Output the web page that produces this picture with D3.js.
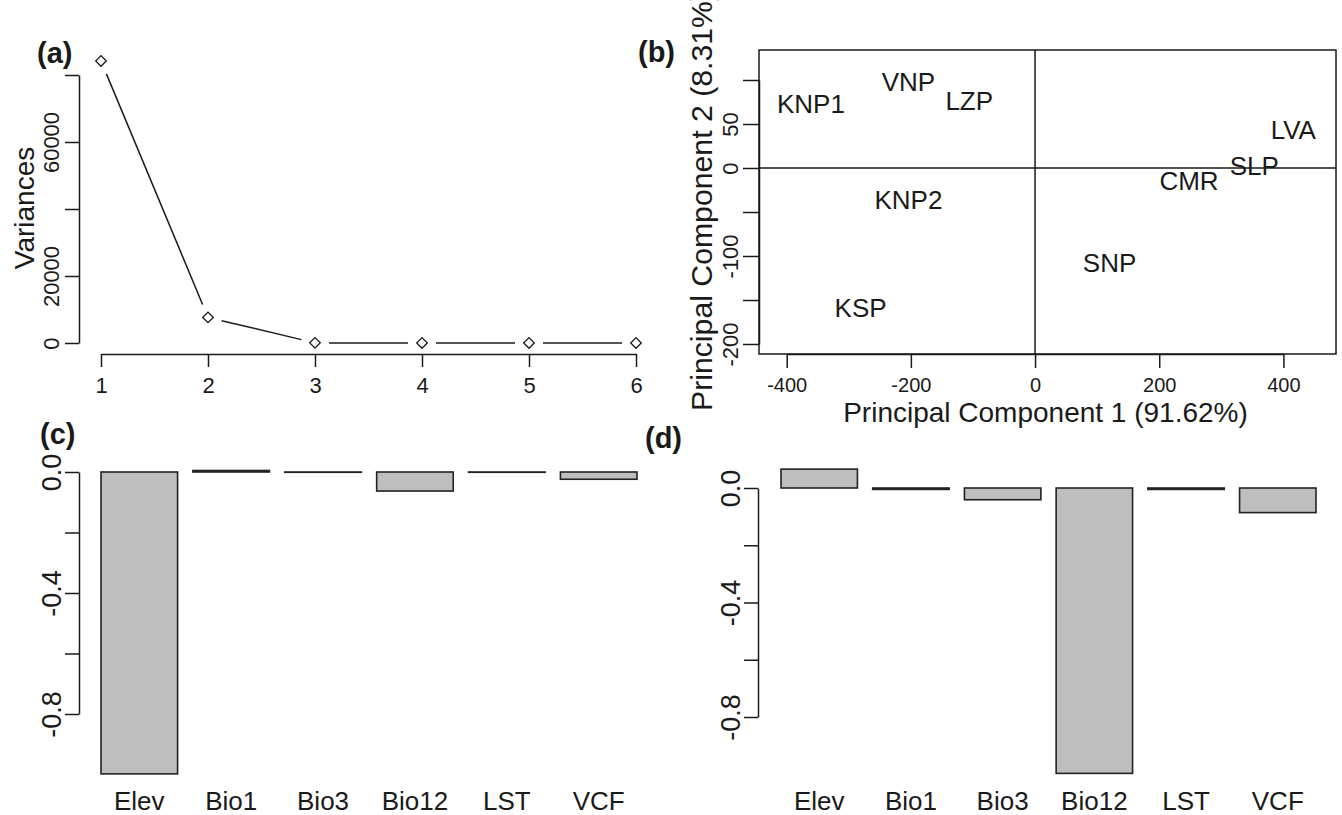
<!DOCTYPE html>
<html>
<head>
<meta charset="utf-8">
<script src="https://cdn.jsdelivr.net/npm/d3@7"></script>
<style>
  body { margin: 0; background: #fff; }
  svg text { font-family: "Liberation Sans", Arial, sans-serif; fill: #1a1a1a; }
</style>
</head>
<body>
<div id="chart"></div>
<script>
// (a) scree plot
var screeComponents = [1, 2, 3, 4, 5, 6];
var screeVariances = [84200, 7640, 40, 15, 6, 3];
var screeYTicks = [0, 20000, 40000, 60000, 80000];
var screeYLabels = [0, 20000, 60000];

// (b) PCA scores
var siteNames = ["KNP1", "VNP", "LZP", "LVA", "SLP", "CMR", "KNP2", "SNP", "KSP"];
var pc1Scores = [-361, -204, -106, 416, 353, 248, -204, 120, -281];
var pc2Scores = [73, 98, 76, 44, 3, -14, -36, -108, -159];
var pcaXTicks = [-400, -200, 0, 200, 400];
var pcaYTicks = [-200, -150, -100, -50, 0, 50, 100];
var pcaYLabels = [-200, -100, 0, 50];

// (c), (d) loadings
var loadingVars = ["Elev", "Bio1", "Bio3", "Bio12", "LST", "VCF"];
var pc1Loadings = [-0.998, 0.005, -0.001, -0.063, -0.001, -0.024];
var pc2Loadings = [0.066, -0.005, -0.041, -0.997, -0.005, -0.086];
var loadTicks = [0, -0.2, -0.4, -0.6, -0.8];
var loadLabels = [0, -0.4, -0.8];

var ink = "#1a1a1a";

var svg = d3.select("#chart").append("svg")
    .attr("width", 1342)
    .attr("height", 815);

// R style numbers: plain hyphen for minus
var fmt = function(f){
  return function(d){ return f(d).replace("\u2212", "-"); };
}

// rotate left-axis labels the R way (read bottom to top)
var rotateLeft = function(g, dist, size){
  g.select(".domain").attr("stroke", ink).attr("stroke-width", 1.5);
  g.selectAll(".tick line").attr("stroke", ink).attr("stroke-width", 1.5);
  g.selectAll(".tick text")
    .attr("transform", "rotate(-90)")
    .attr("text-anchor", "middle")
    .attr("x", 0)
    .attr("y", -dist)
    .attr("dy", 0)
    .style("font-size", size + "px")
    .attr("fill", ink);
}

var styleBottom = function(g, size, off){
  g.select(".domain").attr("stroke", ink).attr("stroke-width", 1.5);
  g.selectAll(".tick line").attr("stroke", ink).attr("stroke-width", 1.5);
  g.selectAll(".tick text")
    .attr("dy", 0)
    .attr("y", off)
    .style("font-size", size + "px")
    .attr("fill", ink);
}

var panelLetter = function(txt, x, y){
  svg.append("text")
    .attr("x", x).attr("y", y)
    .style("font-size", "29px")
    .style("font-weight", "bold")
    .text(txt);
}

/* ---------- (a) ---------- */
var xA = d3.scaleLinear().domain([1, 6]).range([101, 636]);
var yA = d3.scaleLinear().domain([0, 80000]).range([343, 75]);

svg.append("g")
  .attr("transform", "translate(79,0)")
  .call(d3.axisLeft(yA).tickValues(screeYTicks).tickSize(14).tickSizeOuter(0)
    .tickFormat(function(d){ return screeYLabels.indexOf(d) >= 0 ? d : ""; }))
  .call(function(g){ rotateLeft(g, 20, 22); });

svg.append("g")
  .attr("transform", "translate(0,354)")
  .call(d3.axisBottom(xA).tickValues(screeComponents).tickSize(13).tickSizeOuter(0)
    .tickFormat(d3.format("d")))
  .call(function(g){ styleBottom(g, 22, 39); });

// type="b": segments with gaps around the points
var gap = 14;
var segs = [];
for (var i = 1; i < screeComponents.length; i++) {
  var x1 = xA(screeComponents[i-1]), y1 = yA(screeVariances[i-1]);
  var x2 = xA(screeComponents[i]), y2 = yA(screeVariances[i]);
  var len = Math.sqrt((x2-x1)*(x2-x1) + (y2-y1)*(y2-y1));
  var ux = (x2-x1)/len, uy = (y2-y1)/len;
  segs.push({x1: x1 + ux*gap, y1: y1 + uy*gap, x2: x2 - ux*gap, y2: y2 - uy*gap});
}
svg.selectAll(".screeSeg").data(segs).enter().append("line")
  .attr("class", "screeSeg")
  .attr("x1", function(d){ return d.x1; })
  .attr("y1", function(d){ return d.y1; })
  .attr("x2", function(d){ return d.x2; })
  .attr("y2", function(d){ return d.y2; })
  .attr("stroke", ink)
  .attr("stroke-width", 1.5);

svg.selectAll(".screePt").data(screeVariances).enter().append("path")
  .attr("class", "screePt")
  .attr("d", d3.symbol(d3.symbolSquare, 56))
  .attr("transform", function(d, i){ return "translate(" + xA(screeComponents[i]) + "," + yA(d) + ") rotate(45)"; })
  .attr("fill", "#fff")
  .attr("stroke", ink)
  .attr("stroke-width", 1.3);

svg.append("text")
  .attr("transform", "translate(34,208) rotate(-90)")
  .attr("text-anchor", "middle")
  .style("font-size", "28px")
  .text("Variances");

panelLetter("(a)", 37, 63);

/* ---------- (b) ---------- */
var xB = d3.scaleLinear().domain([-400, 400]).range([786.7, 1283.4]);
var yB = d3.scaleLinear().domain([-200, 100]).range([344, 80]);
var boxL = 759, boxR = 1336, boxT = 50, boxB = 354;

svg.append("g")
  .attr("transform", "translate(0," + boxB + ")")
  .call(d3.axisBottom(xB).tickValues(pcaXTicks).tickSize(14).tickSizeOuter(0)
    .tickFormat(fmt(d3.format("d"))))
  .call(function(g){ styleBottom(g, 20, 38); });

svg.append("g")
  .attr("transform", "translate(" + boxL + ",0)")
  .call(d3.axisLeft(yB).tickValues(pcaYTicks).tickSize(16).tickSizeOuter(0)
    .tickFormat(function(d){ return pcaYLabels.indexOf(d) >= 0 ? String(d) : ""; }))
  .call(function(g){ rotateLeft(g, 21, 22); });

svg.append("rect")
  .attr("x", boxL).attr("y", boxT)
  .attr("width", boxR - boxL).attr("height", boxB - boxT)
  .attr("fill", "none")
  .attr("stroke", ink)
  .attr("stroke-width", 1.5);

svg.append("line")
  .attr("x1", xB(0)).attr("x2", xB(0))
  .attr("y1", boxT).attr("y2", boxB)
  .attr("stroke", ink).attr("stroke-width", 1.5);
svg.append("line")
  .attr("x1", boxL).attr("x2", boxR)
  .attr("y1", yB(0)).attr("y2", yB(0))
  .attr("stroke", ink).attr("stroke-width", 1.5);

svg.selectAll(".site").data(siteNames).enter().append("text")
  .attr("class", "site")
  .attr("x", function(d, i){ return xB(pc1Scores[i]); })
  .attr("y", function(d, i){ return yB(pc2Scores[i]); })
  .attr("dy", "0.36em")
  .attr("text-anchor", "middle")
  .style("font-size", "26px")
  .text(function(d){ return d; });

svg.append("text")
  .attr("x", (boxL + boxR) / 2 - 2)
  .attr("y", 422)
  .attr("text-anchor", "middle")
  .style("font-size", "28px")
  .text("Principal Component 1 (91.62%)");

svg.append("text")
  .attr("transform", "translate(712,411) rotate(-90)")
  .attr("text-anchor", "start")
  .attr("textLength", 420)
  .attr("lengthAdjust", "spacingAndGlyphs")
  .style("font-size", "29px")
  .text("Principal Component 2 (8.31%)");

panelLetter("(b)", 638, 62);

/* ---------- (c) and (d) ---------- */
var loadingPanel = function(values, axisX, zeroY, lowY, bandRange){
  var x = d3.scaleBand().domain(loadingVars).range(bandRange).paddingInner(1/6).paddingOuter(0);
  var y = d3.scaleLinear().domain([-0.8, 0]).range([lowY, zeroY]);

  svg.append("g")
    .attr("transform", "translate(" + axisX + ",0)")
    .call(d3.axisLeft(y).tickValues(loadTicks).tickSize(14).tickSizeOuter(0)
      .tickFormat(function(d){ return loadLabels.indexOf(d) >= 0 ? fmt(d3.format(".1f"))(d) : ""; }))
    .call(function(g){ rotateLeft(g, 18, 27); });

  svg.append("g").selectAll("rect").data(values).enter().append("rect")
    .attr("x", function(d, i){ return x(loadingVars[i]); })
    .attr("width", x.bandwidth())
    .attr("y", function(d){ return Math.min(y(d), y(0)); })
    .attr("height", function(d){ return Math.abs(y(d) - y(0)); })
    .attr("fill", "#bebebe")
    .attr("stroke", "#222")
    .attr("stroke-width", 1.6);

  svg.append("g").selectAll("text").data(loadingVars).enter().append("text")
    .attr("x", function(d){ return x(d) + x.bandwidth() / 2; })
    .attr("y", 810)
    .attr("text-anchor", "middle")
    .style("font-size", "26px")
    .text(function(d){ return d; });
}

loadingPanel(pc1Loadings, 79, 472, 714, [101, 637]);
panelLetter("(c)", 40, 444);

loadingPanel(pc2Loadings, 758, 488, 717, [781, 1316]);
panelLetter("(d)", 645, 448);
</script>
</body>
</html>
